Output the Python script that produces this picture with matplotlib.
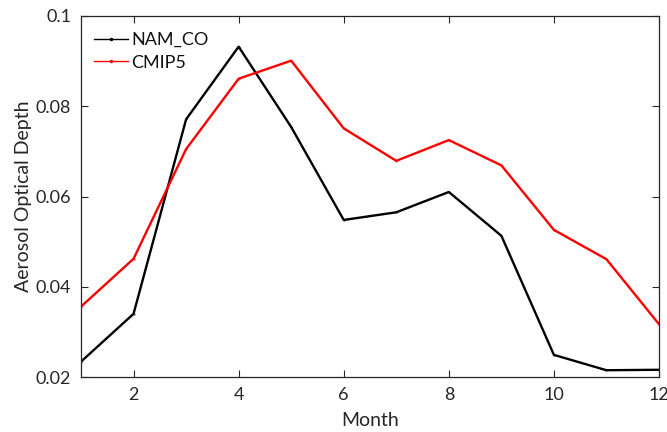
import matplotlib
matplotlib.use("Agg")
import matplotlib.pyplot as plt

months = list(range(1, 13))
nam_co = [0.0234, 0.0340, 0.0771, 0.0932, 0.0754, 0.0548, 0.0565, 0.0610, 0.0513, 0.0249, 0.0215, 0.0216]
cmip5 = [0.0356, 0.0462, 0.0705, 0.0861, 0.0901, 0.0751, 0.0679, 0.0725, 0.0669, 0.0526, 0.0461, 0.0317]
xticks = [2, 4, 6, 8, 10, 12]
yticks = [0.02, 0.04, 0.06, 0.08, 0.1]
ytick_labels = ["0.02", "0.04", "0.06", "0.08", "0.1"]

plt.rcParams['font.family'] = ['Lato', 'DejaVu Sans']

fig = plt.figure(figsize=(6.67, 4.32), dpi=100)
ax = fig.add_axes([81/667, 55/432, 578/667, 361/432])

ax.plot(months, nam_co, color='black', lw=1.7, marker='.', markersize=0.8, label='NAM_CO')
ax.plot(months, cmip5, color='#ff0000', lw=1.7, marker='.', markersize=0.8, label='CMIP5')

ax.set_xlim(1, 12)
ax.set_ylim(0.02, 0.1)
ax.set_xticks(xticks)
ax.set_yticks(yticks)
ax.set_yticklabels(ytick_labels)
ax.tick_params(direction='in', top=True, right=True, length=5, width=0.8,
               labelsize=13, labelcolor='#262626', color='#262626', pad=7)
for s in ax.spines.values():
    s.set_linewidth(0.9)
    s.set_color('#262626')

ax.set_xlabel('Month', fontsize=14, color='#262626', labelpad=7)
ax.set_ylabel('Aerosol Optical Depth', fontsize=14, color='#262626', labelpad=3)

leg = ax.legend(loc='upper left', frameon=False, fontsize=13, handlelength=1.9,
                handletextpad=0.2, borderaxespad=0.3, labelspacing=0.35,
                bbox_to_anchor=(0.0, 0.99))
for t in leg.get_texts():
    t.set_color('#111111')
for h in leg.get_lines():
    h.set_linewidth(1.0)
    h.set_markersize(3)

fig.savefig('out.png', dpi=100)
